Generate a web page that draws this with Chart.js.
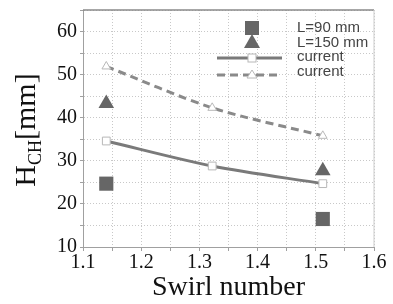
<!DOCTYPE html>
<html>
<head>
<meta charset="utf-8">
<script src="https://cdn.jsdelivr.net/npm/chart.js@4/dist/chart.umd.min.js"></script>
<style>
  html, body { margin: 0; padding: 0; background: #fff; }
  canvas { display: block; }
</style>
</head>
<body>
<canvas id="chart" width="393" height="304"></canvas>
<script>
// ── Data ─────────────────────────────────────────────────────────
const swirlMeasured = [1.14, 1.512];
const hL90 = [24.7, 16.5];
const hL150 = [43.3, 27.7];

const swirlCurrent = [1.14, 1.322, 1.512];
const hCurrent90 = [34.6, 28.8, 24.7];
const hCurrent150 = [51.9, 42.3, 35.8];

const legendLabels = ['L=90 mm', 'L=150 mm', 'current', 'current'];

// ── Theme ────────────────────────────────────────────────────────
const COLORS = {
  marker: '#666666',
  line: '#7a7a7a',
  dash: '#8a8a8a',
  hollow: '#b8b8b8',
  grid: '#c8c8c8',
  axis: '#a0a0a0',
  text: '#111111',
  legend: '#444444',
};
const SERIF = '"Liberation Serif", "Times New Roman", serif';
const SANS = '"Liberation Sans", Arial, sans-serif';

const pts = (xs, ys) => xs.map((x, i) => ({ x, y: ys[i] }));

// y axis title with subscript, drawn by hand
const yTitlePlugin = {
  id: 'yTitle',
  afterDraw(chart) {
    const { ctx } = chart;
    const big = '30px ' + SERIF, small = '18px ' + SERIF;
    ctx.save();
    ctx.font = big; const wH = ctx.measureText('H').width;
    const wB = ctx.measureText('[mm]').width;
    ctx.font = small; const wS = ctx.measureText('CH').width;
    const total = wH + wS + wB;
    ctx.translate(26, 130);
    ctx.rotate(-Math.PI / 2);
    ctx.fillStyle = COLORS.text;
    ctx.textBaseline = 'alphabetic';
    ctx.textAlign = 'left';
    let x = -total / 2;
    ctx.font = big; ctx.fillText('H', x, 9); x += wH;
    ctx.font = small; ctx.fillText('CH', x, 15); x += wS;
    ctx.font = big; ctx.fillText('[mm]', x, 9);
    ctx.restore();
  }
};

// frame: dark top edge, light right edge
const framePlugin = {
  id: 'frame',
  afterDatasetsDraw(chart) {
    const { ctx, chartArea: a } = chart;
    ctx.save();
    ctx.lineWidth = 1.5;
    ctx.strokeStyle = '#8a8a8a';
    ctx.beginPath(); ctx.moveTo(a.left, a.top); ctx.lineTo(a.right, a.top); ctx.stroke();
    ctx.lineWidth = 1;
    ctx.strokeStyle = '#cccccc';
    ctx.beginPath(); ctx.moveTo(a.right, a.top); ctx.lineTo(a.right, a.bottom); ctx.stroke();
    ctx.restore();
  }
};

// legend in the top right of the plot
const legendPlugin = {
  id: 'customLegend',
  afterDraw(chart) {
    const { ctx, chartArea: a } = chart;
    const cx = a.left + 169;
    const tx = a.left + 214;
    const marks = [a.top + 18, a.top + 32, a.top + 48, a.top + 65];
    const texts = [a.top + 18, a.top + 33, a.top + 47, a.top + 62];
    ctx.save();
    // filled square + triangle
    ctx.fillStyle = COLORS.marker;
    ctx.fillRect(cx - 7, marks[0] - 7, 14, 14);
    ctx.beginPath();
    ctx.moveTo(cx, marks[1] - 8); ctx.lineTo(cx + 8, marks[1] + 6); ctx.lineTo(cx - 8, marks[1] + 6);
    ctx.closePath(); ctx.fill();
    // solid line + hollow square
    ctx.strokeStyle = COLORS.line; ctx.lineWidth = 3;
    ctx.beginPath(); ctx.moveTo(cx - 35, marks[2]); ctx.lineTo(cx + 30, marks[2]); ctx.stroke();
    ctx.fillStyle = '#fff'; ctx.strokeStyle = COLORS.hollow; ctx.lineWidth = 1;
    ctx.fillRect(cx - 4, marks[2] - 4, 8, 8); ctx.strokeRect(cx - 4, marks[2] - 4, 8, 8);
    // dashed line + hollow triangle
    ctx.strokeStyle = COLORS.dash; ctx.lineWidth = 3; ctx.setLineDash([8, 5]);
    ctx.beginPath(); ctx.moveTo(cx - 35, marks[3]); ctx.lineTo(cx + 30, marks[3]); ctx.stroke();
    ctx.setLineDash([]);
    ctx.fillStyle = '#fff'; ctx.strokeStyle = COLORS.hollow; ctx.lineWidth = 1;
    ctx.beginPath();
    ctx.moveTo(cx, marks[3] - 5); ctx.lineTo(cx + 5, marks[3] + 3); ctx.lineTo(cx - 5, marks[3] + 3);
    ctx.closePath(); ctx.fill(); ctx.stroke();
    // labels
    ctx.fillStyle = COLORS.legend;
    ctx.font = '15px ' + SANS;
    ctx.textBaseline = 'middle';
    legendLabels.forEach((t, i) => ctx.fillText(t, tx, texts[i]));
    ctx.restore();
  }
};

new Chart(document.getElementById('chart'), {
  type: 'scatter',
  data: {
    datasets: [
      {
        label: legendLabels[0],
        data: pts(swirlMeasured, hL90),
        pointStyle: 'rect', pointRadius: 10, borderWidth: 0,
        backgroundColor: COLORS.marker, borderColor: COLORS.marker,
      },
      {
        label: legendLabels[1],
        data: pts(swirlMeasured, hL150),
        pointStyle: 'triangle', pointRadius: 9, borderWidth: 0,
        backgroundColor: COLORS.marker, borderColor: COLORS.marker,
      },
      {
        label: legendLabels[2],
        data: pts(swirlCurrent, hCurrent90),
        showLine: true, borderColor: COLORS.line, borderWidth: 3, tension: 0.3,
        pointStyle: 'rect', pointRadius: 5.5,
        pointBackgroundColor: '#fff', pointBorderColor: COLORS.hollow, pointBorderWidth: 1,
      },
      {
        label: legendLabels[3],
        data: pts(swirlCurrent, hCurrent150),
        showLine: true, borderColor: COLORS.dash, borderWidth: 3, borderDash: [8, 5], tension: 0.3,
        pointStyle: 'triangle', pointRadius: 5,
        pointBackgroundColor: '#fff', pointBorderColor: COLORS.hollow, pointBorderWidth: 1,
      },
    ],
  },
  options: {
    responsive: false,
    animation: false,
    layout: { padding: { left: 0, right: 19, top: 10, bottom: 0 } },
    plugins: { legend: { display: false }, tooltip: { enabled: false } },
    scales: {
      x: {
        type: 'linear', min: 1.1, max: 1.6,
        afterFit: (s) => { s.height = 57; s.paddingLeft = 0; s.paddingRight = 0; },
        grid: { color: COLORS.grid, tickLength: 4, tickColor: COLORS.axis },
        border: { color: COLORS.axis, width: 1, dash: [1, 2] },
        ticks: {
          stepSize: 0.05, padding: 0, color: COLORS.text, maxRotation: 0, autoSkip: false,
          font: { family: SERIF, size: 20 },
          callback: (v) => Math.round(v * 100) % 10 === 0 ? v.toFixed(1) : '',
        },
        title: {
          display: true, text: 'Swirl number', color: COLORS.text,
          font: { family: SERIF, size: 28 }, padding: { top: 0, bottom: 0 },
        },
      },
      y: {
        min: 10, max: 65,
        afterFit: (s) => { s.width = 83; s.paddingTop = 0; s.paddingBottom = 0; },
        grid: { color: COLORS.grid, tickLength: 3, tickColor: COLORS.axis },
        border: { color: COLORS.axis, width: 1, dash: [1, 2] },
        ticks: {
          stepSize: 5, padding: 3, color: COLORS.text, autoSkip: false,
          font: { family: SERIF, size: 20 },
          callback: (v) => v % 10 === 0 ? String(v) : '',
        },
      },
    },
  },
  plugins: [yTitlePlugin, framePlugin, legendPlugin],
});
</script>
</body>
</html>
